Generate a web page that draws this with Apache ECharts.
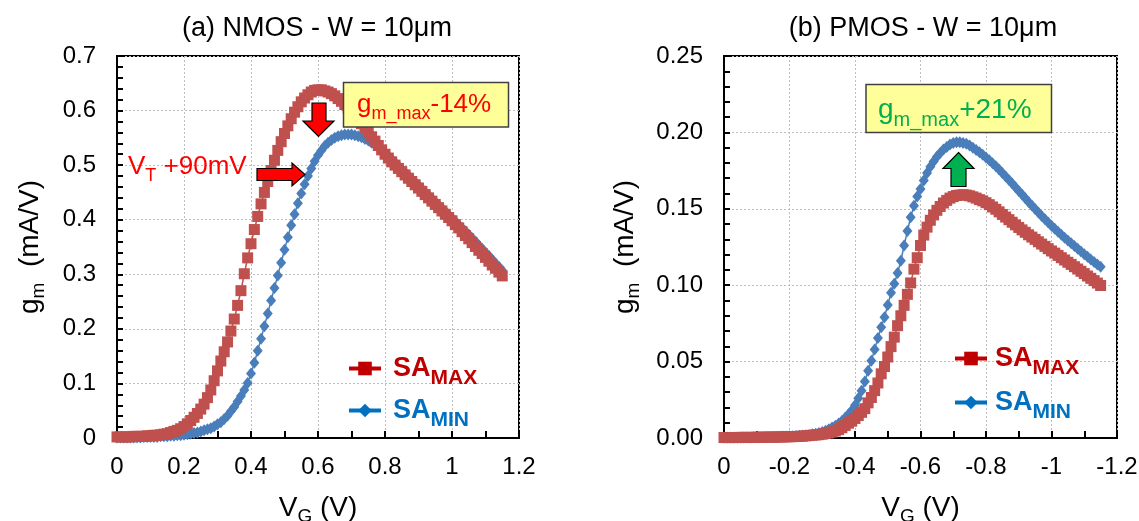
<!DOCTYPE html>
<html>
<head>
<meta charset="utf-8">
<script src="https://cdn.jsdelivr.net/npm/echarts@6/dist/echarts.min.js"></script>
<style>
html,body{margin:0;padding:0;background:#fff;}
#chart{width:1139px;height:521px;}
</style>
</head>
<body>
<div id="chart"></div>
<script>
// ---------------- DATA ----------------
// Gate voltage sweep, NMOS (V)
const VG_N = [
0,0.01,0.02,0.03,0.04,0.05,0.06,0.07,0.08,0.09,
0.1,0.11,0.12,0.13,0.14,0.15,0.16,0.17,0.18,0.19,
0.2,0.21,0.22,0.23,0.24,0.25,0.26,0.27,0.28,0.29,
0.3,0.31,0.32,0.33,0.34,0.35,0.36,0.37,0.38,0.39,
0.4,0.41,0.42,0.43,0.44,0.45,0.46,0.47,0.48,0.49,
0.5,0.51,0.52,0.53,0.54,0.55,0.56,0.57,0.58,0.59,
0.6,0.61,0.62,0.63,0.64,0.65,0.66,0.67,0.68,0.69,
0.7,0.71,0.72,0.73,0.74,0.75,0.76,0.77,0.78,0.79,
0.8,0.81,0.82,0.83,0.84,0.85,0.86,0.87,0.88,0.89,
0.9,0.91,0.92,0.93,0.94,0.95,0.96,0.97,0.98,0.99,
1,1.01,1.02,1.03,1.04,1.05,1.06,1.07,1.08,1.09,
1.1,1.11,1.12,1.13,1.14,1.15];
// Gate voltage sweep, PMOS (V)
const VG_P = [
0,-0.01,-0.02,-0.03,-0.04,-0.05,-0.06,-0.07,-0.08,-0.09,
-0.1,-0.11,-0.12,-0.13,-0.14,-0.15,-0.16,-0.17,-0.18,-0.19,
-0.2,-0.21,-0.22,-0.23,-0.24,-0.25,-0.26,-0.27,-0.28,-0.29,
-0.3,-0.31,-0.32,-0.33,-0.34,-0.35,-0.36,-0.37,-0.38,-0.39,
-0.4,-0.41,-0.42,-0.43,-0.44,-0.45,-0.46,-0.47,-0.48,-0.49,
-0.5,-0.51,-0.52,-0.53,-0.54,-0.55,-0.56,-0.57,-0.58,-0.59,
-0.6,-0.61,-0.62,-0.63,-0.64,-0.65,-0.66,-0.67,-0.68,-0.69,
-0.7,-0.71,-0.72,-0.73,-0.74,-0.75,-0.76,-0.77,-0.78,-0.79,
-0.8,-0.81,-0.82,-0.83,-0.84,-0.85,-0.86,-0.87,-0.88,-0.89,
-0.9,-0.91,-0.92,-0.93,-0.94,-0.95,-0.96,-0.97,-0.98,-0.99,
-1,-1.01,-1.02,-1.03,-1.04,-1.05,-1.06,-1.07,-1.08,-1.09,
-1.1,-1.11,-1.12,-1.13,-1.14,-1.15];

// gm (mA/V), NMOS, SA_MAX
const GM_N_MAX = [
0.002,0.002,0.002,0.002,0.002,0.003,0.003,0.003,0.003,0.004,
0.004,0.005,0.005,0.006,0.007,0.008,0.010,0.012,0.014,0.017,
0.021,0.026,0.032,0.038,0.045,0.053,0.062,0.074,0.088,0.105,
0.123,0.141,0.158,0.176,0.196,0.218,0.243,0.270,0.301,0.330,
0.356,0.382,0.406,0.429,0.450,0.470,0.490,0.509,0.527,0.543,
0.558,0.572,0.585,0.597,0.607,0.616,0.623,0.629,0.634,0.637,
0.638,0.638,0.636,0.634,0.631,0.627,0.622,0.617,0.611,0.605,
0.598,0.591,0.584,0.576,0.568,0.560,0.552,0.544,0.536,0.528,
0.520,0.513,0.506,0.500,0.494,0.488,0.482,0.476,0.470,0.464,
0.458,0.452,0.446,0.440,0.434,0.428,0.422,0.416,0.410,0.404,
0.398,0.391,0.385,0.378,0.371,0.365,0.358,0.351,0.344,0.338,
0.331,0.324,0.317,0.311,0.304,0.297];
// gm (mA/V), NMOS, SA_MIN
const GM_N_MIN = [
0.001,0.001,0.001,0.001,0.001,0.001,0.001,0.001,0.002,0.002,
0.002,0.002,0.002,0.003,0.003,0.003,0.004,0.004,0.005,0.005,
0.006,0.007,0.008,0.009,0.010,0.012,0.014,0.016,0.018,0.021,
0.025,0.029,0.035,0.041,0.049,0.057,0.067,0.077,0.088,0.101,
0.118,0.138,0.160,0.182,0.205,0.228,0.252,0.275,0.298,0.321,
0.345,0.368,0.390,0.410,0.430,0.448,0.465,0.480,0.494,0.507,
0.518,0.527,0.535,0.541,0.546,0.550,0.553,0.555,0.556,0.556,
0.556,0.555,0.553,0.551,0.548,0.545,0.541,0.537,0.533,0.528,
0.523,0.517,0.511,0.505,0.499,0.493,0.487,0.481,0.475,0.469,
0.463,0.457,0.451,0.445,0.439,0.433,0.427,0.421,0.415,0.409,
0.403,0.397,0.391,0.385,0.379,0.373,0.366,0.360,0.353,0.347,
0.340,0.334,0.327,0.320,0.314,0.307];
// gm (mA/V), PMOS, SA_MAX
const GM_P_MAX = [
0.0003,0.0003,0.0003,0.0003,0.0003,0.0004,0.0004,0.0004,0.0004,0.0004,
0.0005,0.0005,0.0005,0.0005,0.0006,0.0006,0.0006,0.0007,0.0007,0.0008,
0.0008,0.0009,0.0010,0.0011,0.0012,0.0014,0.0016,0.0018,0.0020,0.0022,
0.0025,0.0029,0.0033,0.0039,0.0046,0.0055,0.0067,0.0082,0.0097,0.0110,
0.0128,0.0147,0.0168,0.0192,0.0230,0.0265,0.0310,0.0360,0.0420,0.0468,
0.0530,0.0598,0.0660,0.0735,0.0800,0.0868,0.0940,0.1015,0.1105,0.1180,
0.1260,0.1328,0.1380,0.1425,0.1460,0.1490,0.1515,0.1538,0.1555,0.1570,
0.1580,0.1587,0.1590,0.1592,0.1590,0.1585,0.1578,0.1570,0.1560,0.1552,
0.1540,0.1527,0.1512,0.1497,0.1480,0.1463,0.1446,0.1429,0.1412,0.1395,
0.1378,0.1362,0.1346,0.1330,0.1315,0.1300,0.1284,0.1269,0.1254,0.1239,
0.1224,0.1210,0.1195,0.1180,0.1165,0.1150,0.1136,0.1121,0.1106,0.1091,
0.1076,0.1060,0.1045,0.1030,0.1014,0.0998];
// gm (mA/V), PMOS, SA_MIN
const GM_P_MIN = [
0.0003,0.0003,0.0003,0.0003,0.0003,0.0004,0.0004,0.0004,0.0004,0.0005,
0.0005,0.0005,0.0006,0.0006,0.0006,0.0007,0.0007,0.0008,0.0009,0.0010,
0.0011,0.0012,0.0013,0.0015,0.0016,0.0018,0.0020,0.0024,0.0028,0.0033,
0.0040,0.0048,0.0057,0.0068,0.0080,0.0095,0.0112,0.0132,0.0155,0.0180,
0.0215,0.0260,0.0310,0.0370,0.0440,0.0505,0.0580,0.0655,0.0725,0.0790,
0.0870,0.0950,0.1010,0.1080,0.1160,0.1260,0.1355,0.1445,0.1520,0.1580,
0.1630,0.1685,0.1735,0.1775,0.1810,0.1840,0.1865,0.1888,0.1905,0.1920,
0.1930,0.1935,0.1935,0.1930,0.1925,0.1915,0.1900,0.1885,0.1870,0.1853,
0.1835,0.1817,0.1798,0.1778,0.1757,0.1735,0.1712,0.1689,0.1665,0.1641,
0.1617,0.1593,0.1569,0.1545,0.1521,0.1498,0.1475,0.1453,0.1431,0.1410,
0.1389,0.1369,0.1349,0.1330,0.1311,0.1292,0.1274,0.1256,0.1238,0.1220,
0.1203,0.1186,0.1169,0.1152,0.1136,0.1120];

const TITLES = ['(a) NMOS - W = 10μm', '(b) PMOS - W = 10μm'];
const SERIES_NAMES = ['SA_MAX', 'SA_MIN'];

// ---------------- STYLE ----------------
const FF = "'Liberation Sans', Arial, sans-serif";
const RED_M = '#c0504d', BLUE_M = '#4a7ebb';
const RED_L = '#c00000', BLUE_L = '#0070c0';

function pairs(xs, ys) { return xs.map((x, i) => [x, ys[i]]); }

function sub(M, S, p, color, weight) {
  return {
    main: {fontSize: M, lineHeight: M, verticalAlign: 'middle', color: color, fill: color, fontWeight: weight || 'normal', fontFamily: FF},
    sub: {fontSize: S, lineHeight: M, verticalAlign: 'top', padding: [p, 0, 0, 0], color: color, fill: color, fontWeight: weight || 'normal', fontFamily: FF}
  };
}

const axisNameRich = sub(28, 19, 13, '#000');
const legRichL = (function(){
  const r = sub(27, 21, 13, RED_L, 'bold'), b = sub(27, 21, 13, BLUE_L, 'bold');
  return {rm: Object.assign({}, r.main, {padding: [0,0,0,7]}), rs: r.sub, bm: Object.assign({}, b.main, {padding: [0,0,0,7]}), bs: b.sub};
})();
const legRichR = (function(){
  const r = sub(27, 21, 13, RED_L, 'bold'), b = sub(27, 21, 13, BLUE_L, 'bold');
  return {rm: Object.assign({}, r.main, {padding: [0,0,0,3]}), rs: r.sub, bm: Object.assign({}, b.main, {padding: [0,0,0,3]}), bs: b.sub};
})();
function legFmt(name) { return name === 'SA_MAX' ? '{rm|SA}{rs|MAX}' : '{bm|SA}{bs|MIN}'; }

function xAxisCfg(grid, min, max, inverse) {
  return {
    gridIndex: grid, type: 'value', min: min, max: max, interval: 0.2, inverse: inverse,
    name: '{main|V}{sub|G}{main| (V)}', nameLocation: 'middle', nameGap: 56,
    nameTextStyle: {rich: axisNameRich},
    axisLine: {show: true, onZero: false, lineStyle: {color: '#000', width: 2}},
    axisTick: {show: true, inside: true, length: 7, lineStyle: {color: '#000', width: 2}},
    minorTick: {show: true, splitNumber: 2, length: 7, lineStyle: {color: '#000', width: 2}},
    axisLabel: {color: '#000', fontSize: 24, fontFamily: FF, margin: 17},
    splitLine: {show: true, lineStyle: {color: '#bdbdbd', type: [2, 2], width: 1}}
  };
}
function yAxisCfg(grid, max, interval, gap, fmt) {
  return {
    gridIndex: grid, type: 'value', min: 0, max: max, interval: interval,
    name: '{main|g}{sub|m}{main|  (mA/V)}', nameLocation: 'middle', nameGap: gap,
    nameTextStyle: {rich: axisNameRich},
    axisLine: {show: true, onZero: false, lineStyle: {color: '#000', width: 2}},
    axisTick: {show: true, inside: true, length: 6, lineStyle: {color: '#000', width: 2}},
    minorTick: {show: true, splitNumber: 5, length: 6, lineStyle: {color: '#000', width: 2}},
    axisLabel: {color: '#000', fontSize: 24, fontFamily: FF, margin: 21, formatter: fmt},
    splitLine: {show: true, lineStyle: {color: '#bdbdbd', type: [2, 2], width: 1}}
  };
}
function lineSeries(name, xi, data, isMax) {
  return {
    name: name, type: 'line', xAxisIndex: xi, yAxisIndex: xi, data: data,
    symbol: isMax ? 'rect' : 'diamond', symbolSize: isMax ? 11 : [10, 12],
    showSymbol: true, showAllSymbol: true, silent: true,
    itemStyle: {color: isMax ? RED_M : BLUE_M},
    lineStyle: {color: isMax ? RED_M : BLUE_M, width: 1.5},
    emphasis: {disabled: true}, z: isMax ? 4 : 3
  };
}
function legendCfg(left, top, gap, rich) {
  return {
    orient: 'vertical', left: left, top: top, padding: 0, itemGap: gap,
    itemWidth: 32, itemHeight: 17, selectedMode: false, formatter: legFmt,
    textStyle: {rich: rich},
    data: [
      {name: 'SA_MAX', itemStyle: {color: RED_L}, lineStyle: {color: RED_L, width: 4}},
      {name: 'SA_MIN', itemStyle: {color: BLUE_L}, lineStyle: {color: BLUE_L, width: 4}}
    ]
  };
}
function arrow(points, fill) {
  return {type: 'polygon', z: 100, shape: {points: points}, style: {fill: fill, stroke: '#000', lineWidth: 1.2}};
}

const annRichL = sub(26, 18, 13, '#ff0000');
const annRichR = sub(28, 20, 14, '#00b050');

const chart = echarts.init(document.getElementById('chart'), null, {renderer: 'canvas'});
chart.setOption({
  animation: false,
  backgroundColor: '#ffffff',
  textStyle: {fontFamily: FF},
  title: [
    {text: TITLES[0], left: 317, top: 15, padding: 0, textAlign: 'center',
     textStyle: {fontSize: 27, fontWeight: 'normal', color: '#000', fontFamily: FF}},
    {text: TITLES[1], left: 923, top: 15, padding: 0, textAlign: 'center',
     textStyle: {fontSize: 27, fontWeight: 'normal', color: '#000', fontFamily: FF}}
  ],
  grid: [
    {left: 117, top: 56, width: 402, height: 382, show: true, borderColor: '#000', borderWidth: 2,
     containLabel: false, outerBoundsMode: 'none'},
    {left: 724, top: 56, width: 393, height: 382, show: true, borderColor: '#000', borderWidth: 2,
     containLabel: false, outerBoundsMode: 'none'}
  ],
  xAxis: [xAxisCfg(0, 0, 1.2, false), xAxisCfg(1, -1.2, 0, true)],
  yAxis: [
    yAxisCfg(0, 0.7, 0.1, 73, null),
    yAxisCfg(1, 0.25, 0.05, 85, function (v) { return v.toFixed(2); })
  ],
  legend: [legendCfg(347, 355, 8, legRichL), legendCfg(953, 345, 10, legRichR)],
  series: [
    lineSeries(SERIES_NAMES[1], 0, pairs(VG_N, GM_N_MIN), false),
    lineSeries(SERIES_NAMES[0], 0, pairs(VG_N, GM_N_MAX), true),
    lineSeries(SERIES_NAMES[1], 1, pairs(VG_P, GM_P_MIN), false),
    lineSeries(SERIES_NAMES[0], 1, pairs(VG_P, GM_P_MAX), true)
  ],
  graphic: [
    {type: 'rect', z: 100, shape: {x: 343.5, y: 82.5, width: 165, height: 44.5}, style: {fill: '#ffff99', stroke: '#404040', lineWidth: 1.5}},
    {type: 'text', z: 101, style: {x: 357, y: 105, text: '{main|g}{sub|m_max}{main|-14%}', rich: annRichL, fill: '#ff0000', align: 'left', verticalAlign: 'middle'}},
    {type: 'text', z: 101, style: {x: 128, y: 167, text: '{main|V}{sub|T}{main| +90mV}', rich: annRichL, fill: '#ff0000', align: 'left', verticalAlign: 'middle'}},
    arrow([[257,168.5],[292,168.5],[292,163],[305,174.5],[292,186],[292,180.5],[257,180.5]], '#ff0000'),
    arrow([[312,103],[326,103],[326,121],[334,121],[318.5,136.5],[303,121],[312,121]], '#ff0000'),
    {type: 'rect', z: 100, shape: {x: 866, y: 84.5, width: 185.5, height: 48}, style: {fill: '#ffff99', stroke: '#404040', lineWidth: 1.5}},
    {type: 'text', z: 101, style: {x: 878, y: 110, text: '{main|g}{sub|m_max}{main|+21%}', rich: annRichR, fill: '#00b050', align: 'left', verticalAlign: 'middle'}},
    arrow([[958.5,152.5],[974,168.5],[966,168.5],[966,186.5],[951,186.5],[951,168.5],[943,168.5]], '#00b050')
  ]
});
</script>
</body>
</html>
